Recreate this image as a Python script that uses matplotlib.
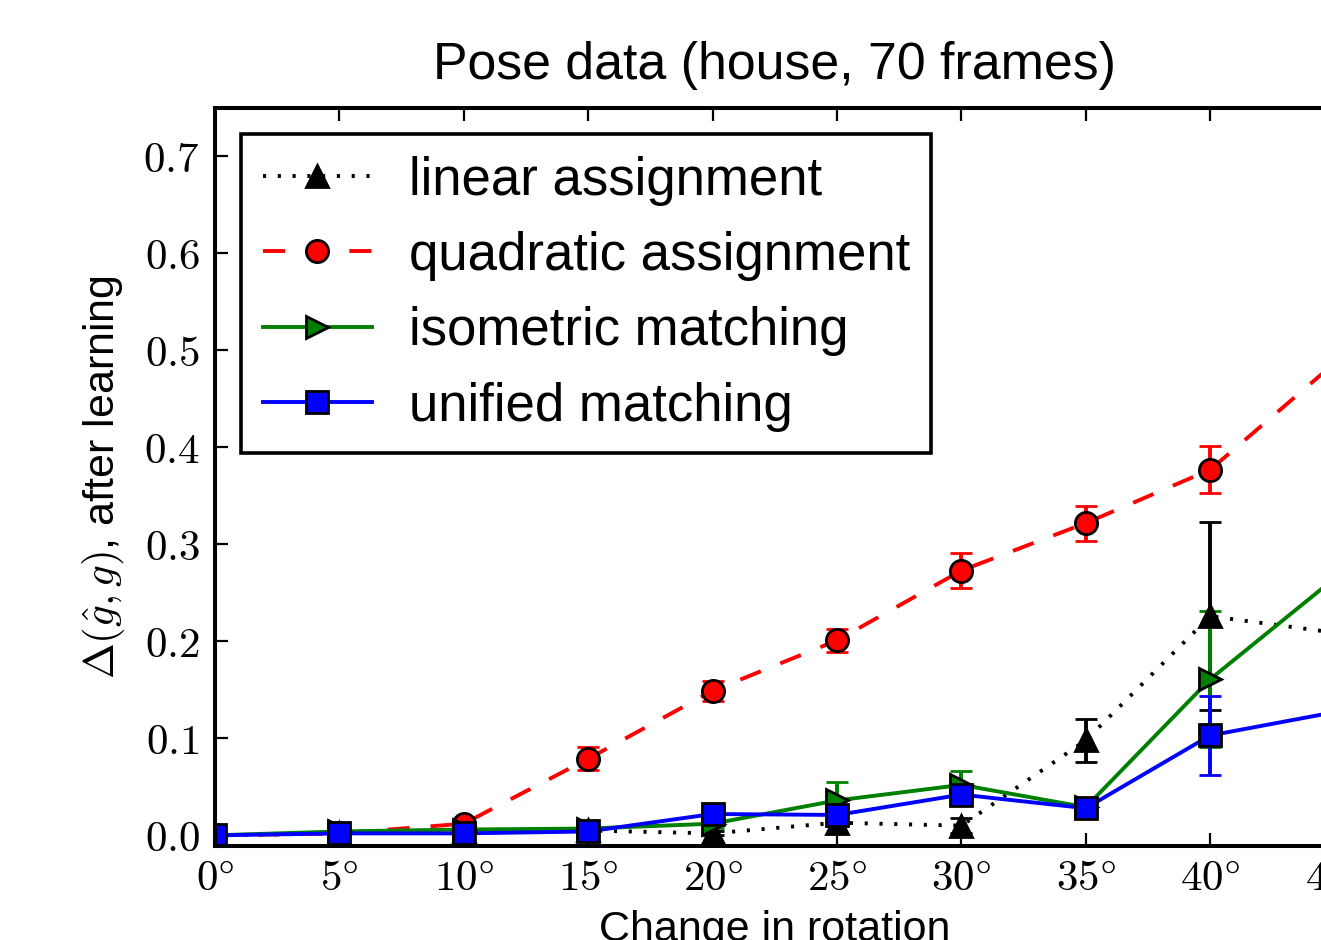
import matplotlib
matplotlib.use('Agg')
import matplotlib.pyplot as plt

plt.rcParams['mathtext.fontset'] = 'cm'
plt.rcParams['font.family'] = ['Liberation Sans', 'DejaVu Sans']

angles = [0, 5, 10, 15, 20, 25, 30, 35, 40, 45]
linear = [0.0, 0.002, 0.004, 0.005, 0.002, 0.013, 0.010, 0.098, 0.226, 0.209]
linear_err = [0.001, 0.001, 0.001, 0.002, 0.002, 0.003, 0.008, 0.022, 0.097, 0.08]
quadratic = [0.0, 0.002, 0.012, 0.079, 0.149, 0.201, 0.273, 0.322, 0.377, 0.487]
quadratic_err = [0.001, 0.001, 0.003, 0.012, 0.010, 0.012, 0.018, 0.018, 0.024, 0.03]
isometric = [0.0, 0.004, 0.006, 0.007, 0.012, 0.036, 0.052, 0.029, 0.161, 0.265]
isometric_err = [0.001, 0.001, 0.001, 0.002, 0.004, 0.019, 0.014, 0.003, 0.07, 0.05]
unified = [0.0, 0.002, 0.002, 0.004, 0.022, 0.021, 0.042, 0.028, 0.103, 0.127]
unified_err = [0.001, 0.001, 0.001, 0.002, 0.003, 0.003, 0.009, 0.003, 0.041, 0.03]

labels = ['linear assignment', 'quadratic assignment', 'isometric matching', 'unified matching']
xtick_vals = [0, 5, 10, 15, 20, 25, 30, 35, 40, 45]
xtick_labels = [r'$%d\degree$' % v for v in xtick_vals]
ytick_vals = [0.0, 0.1, 0.2, 0.3, 0.4, 0.5, 0.6, 0.7]
ytick_labels = [r'$%.1f$' % v for v in ytick_vals]

W, H = 1321, 940
fig = plt.figure(figsize=(W / 200, H / 200), dpi=200)
ax = fig.add_axes([215 / W, 1 - 846 / H, (1334.6 - 215) / W, (846 - 108) / H])

LW = 1.4
series = [
    (linear, linear_err, 'k', '^', (0.8, 3.0)),
    (quadratic, quadratic_err, 'r', 'o', (5.7, 5.4)),
    (isometric, isometric_err, 'g', '>', None),
    (unified, unified_err, 'b', 's', None),
]
handles = []
for (vals, errs, c, m, d), lab in zip(series, labels):
    cont = ax.errorbar(angles, vals, yerr=errs, color=c, ecolor=c, marker=m,
                       ms=8, mfc=c, mec='k', mew=1.0, lw=LW, elinewidth=LW,
                       capsize=4, capthick=LW, label=lab)
    line = cont[0]
    if d is not None:
        line.set_dashes(d)
    handles.append(line)

ax.set_xlim(0, 45)
ax.set_ylim(-0.011, 0.75)
ax.set_xticks(xtick_vals)
ax.set_xticklabels(xtick_labels, fontsize=15.5)
ax.set_yticks(ytick_vals)
ax.set_yticklabels(ytick_labels, fontsize=15.5)
ax.tick_params(direction='in', length=4.7, width=0.8, top=True, right=True)
ax.tick_params(axis='x', pad=4.5)
ax.tick_params(axis='y', pad=5.5)
for s in ax.spines.values():
    s.set_linewidth(1.45)

ax.set_title('Pose data (house, 70 frames)', fontsize=18.7, pad=10.3)
ax.set_xlabel('Change in rotation', fontsize=15.5, labelpad=4)
ax.set_ylabel(r'$\Delta(\hat{g}, g)$, after learning', fontsize=15.5, labelpad=6)

leg = ax.legend(handles, labels, loc='upper left', fontsize=19, numpoints=1,
                handlelength=2.08, handletextpad=0.69, borderpad=0.4,
                labelspacing=0.48, borderaxespad=0.5, fancybox=False,
                framealpha=1, edgecolor='k')
leg.get_frame().set_linewidth(1.3)

fig.savefig('out.png', dpi=200)
